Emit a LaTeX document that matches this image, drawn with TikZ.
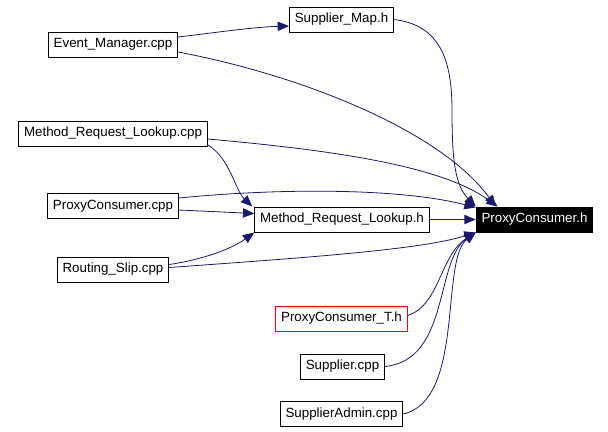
\documentclass[tikz,border=0pt]{standalone}
\usepackage{fontspec}
\setmainfont{Liberation Sans}
\usetikzlibrary{arrows.meta,calc}
\definecolor{edgeblue}{HTML}{191970}
\begin{document}
\begin{tikzpicture}[x=0.75pt,y=-0.75pt,
    file/.style={draw, line width=0.75pt, font=\fontsize{10}{12}\selectfont, minimum height=18.75pt, inner xsep=4pt, inner ysep=0pt},
    dep/.style={draw=edgeblue, line width=0.6pt, -{Triangle[length=8.5pt,width=7pt]}}]
  \useasboundingbox (0,0) rectangle (608,432);
  \node[file] (em) at (113,44.5) {Event\_Manager.cpp};
  \node[file] (smap) at (341.5,19.5) {Supplier\_Map.h};
  \node[file] (mrlcpp) at (113,133.5) {Method\_Request\_Lookup.cpp};
  \node[file] (pccpp) at (113,206) {ProxyConsumer.cpp};
  \node[file] (mrlh) at (342,219.5) {Method\_Request\_Lookup.h};
  \node[file] (rs) at (113,269.5) {Routing\_Slip.cpp};
  \node[file, fill=black, text=white] (pch) at (534.5,219.5) {ProxyConsumer.h};
  \node[file, draw=red] (pct) at (341.5,318.5) {ProxyConsumer\_T.h};
  \node[file] (sup) at (342.5,366.5) {Supplier.cpp};
  \node[file] (sa) at (341.5,414) {SupplierAdmin.cpp};

  \draw[dep] ($(em.east)+(0,-7.5)$) .. controls (220,32) and (255,27) .. ($(smap.west)+(0,6.5)$);
  \draw[dep] ($(em.east)+(0,7.5)$) .. controls (300,75) and (440,130) .. ($(pch.north west)+(20,0)$);
  \draw[dep] (smap.east) .. controls (440,25) and (452,60) .. (452,110) .. controls (452,160) and (455,185) .. (pch.north west);
  \draw[dep] ($(mrlcpp.east)+(0,5.5)$) .. controls (330,150) and (440,165) .. ($(pch.north west)+(22,0)$);
  \draw[dep] ($(mrlcpp.east)+(0,11.5)$) .. controls (230,158) and (235,190) .. ($(mrlh.north west)+(-2,0)$);
  \draw[dep] ($(pccpp.east)+(0,-8)$) .. controls (280,188) and (400,188) .. ($(pch.north west)+(0,1)$);
  \draw[dep] ($(pccpp.east)+(0,4)$) -- ($(mrlh.west)+(0,-6)$);
  \draw[dep] ($(rs.east)+(0,-5)$) .. controls (200,260) and (230,250) .. (mrlh.south west);
  \draw[dep] ($(rs.east)+(0,-2)$) .. controls (300,258) and (420,250) .. (pch.south west);
  \draw[dep] (mrlh.east) -- (pch.west);
  \draw[dep] ($(pct.east)+(0,-3)$) .. controls (440,305) and (440,255) .. (pch.south west);
  \draw[dep] (sup.east) .. controls (450,360) and (435,260) .. (pch.south west);
  \draw[dep] (sa.east) .. controls (465,400) and (440,260) .. (pch.south west);
\end{tikzpicture}
\end{document}
